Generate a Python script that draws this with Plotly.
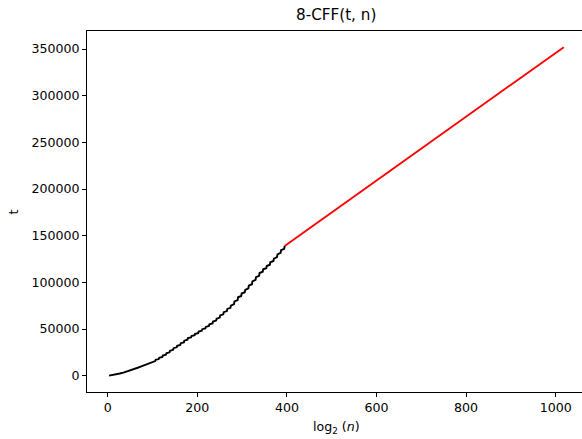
import plotly.graph_objects as go

# black (computed) series: log2(n) vs t  (treads and jumps)
x_black = [3, 11, 19, 27, 35, 43, 51, 59, 67, 75, 83, 91,
           99, 106, 107, 114, 115, 122, 123, 130, 131, 138, 139, 146,
           147, 154, 155, 162, 163, 170, 171, 178, 179, 186, 187, 194,
           195, 202, 203, 210, 211, 218, 219, 226, 227, 234, 235, 242,
           243, 250, 251, 258, 259, 266, 267, 274, 275, 282, 283, 290,
           291, 298, 299, 306, 307, 314, 315, 322, 323, 330, 331, 338,
           339, 346, 347, 354, 355, 362, 363, 370, 371, 378, 379, 386,
           387, 394, 395]
t_black = [0, 600, 1400, 2300, 3300, 4400, 5600, 7000, 8500, 10000, 11600, 13300,
           15000, 15700, 17000, 17800, 19200, 20000, 21500, 22400, 24000, 25000, 26700, 27700,
           29500, 30400, 32000, 33000, 34800, 35700, 37500, 38500, 40200, 41000, 42500, 43300,
           44800, 45600, 47200, 48100, 49800, 50600, 52200, 53200, 55000, 56000, 58000, 59000,
           61000, 62200, 64500, 65700, 68000, 69200, 71500, 72700, 75000, 76600, 79500, 81000,
           84000, 85400, 88000, 89400, 92000, 93600, 96500, 98000, 101000, 102600, 105500, 107000,
           110000, 111400, 114000, 115200, 117500, 118900, 121500, 122900, 125500, 127000, 130000, 131500,
           134500, 136000, 139000]

# red (extrapolated) series
x_red = [395, 1018]
t_red = [139000, 352000]

x_ticks = [0, 200, 400, 600, 800, 1000]
y_ticks = [0, 50000, 100000, 150000, 200000, 250000, 300000, 350000]

FONT = "DejaVu Sans"

fig = go.Figure()
fig.add_trace(go.Scatter(x=x_black, y=t_black, mode="lines",
                         line=dict(color="black", width=1.9), showlegend=False))
fig.add_trace(go.Scatter(x=x_red, y=t_red, mode="lines",
                         line=dict(color="red", width=1.9), showlegend=False))

axis_common = dict(showgrid=False, zeroline=False, showline=True, linecolor="black",
                   linewidth=1, ticks="outside", ticklen=4, tickwidth=1,
                   tickcolor="black", tickfont=dict(family=FONT, size=12.6, color="black"))

fig.update_layout(
    width=582, height=439,
    margin=dict(l=87, r=0, t=31, b=47),
    paper_bgcolor="white", plot_bgcolor="white",
    font=dict(family=FONT, color="black"),
    xaxis=dict(range=[-46.2, 1058.7], tickvals=x_ticks, mirror=True, **axis_common),
    yaxis=dict(range=[-17480, 369300], tickvals=y_ticks, tickformat="d", mirror=False,
               **axis_common),
    annotations=[
        dict(text="8-CFF(t, n)", xref="paper", yref="paper", x=0.504, y=1,
             yshift=16, xanchor="center", yanchor="middle", showarrow=False,
             font=dict(family=FONT, size=15.2, color="black")),
        dict(text="log<sub>2</sub> (<i>n</i>)", xref="paper", yref="paper", x=0.504, y=0,
             yshift=-35, xanchor="center", yanchor="middle", showarrow=False,
             font=dict(family=FONT, size=12.6, color="black")),
        dict(text="t", xref="paper", yref="paper", x=-0.1475, y=0.5, textangle=-90,
             xanchor="center", yanchor="middle", showarrow=False,
             font=dict(family=FONT, size=12.6, color="black")),
    ],
)

fig.write_html("out.html")
